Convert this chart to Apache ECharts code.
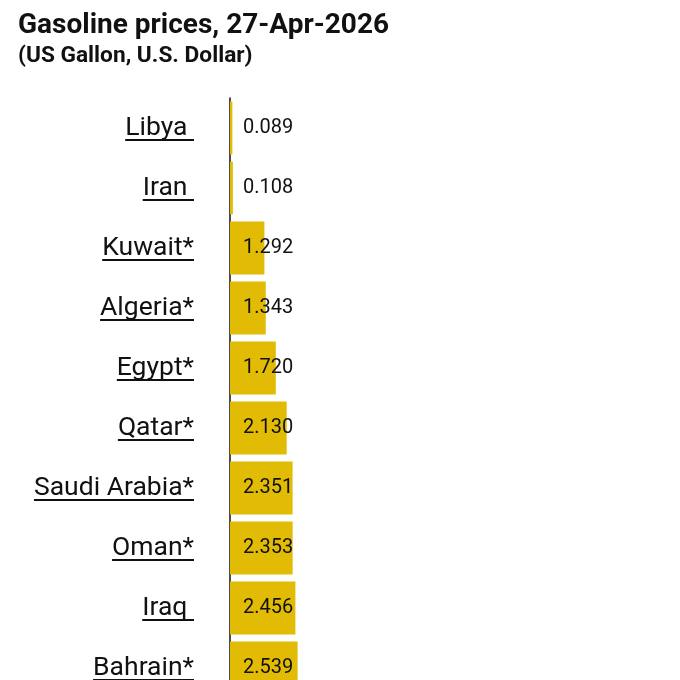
<!DOCTYPE html>
<html>
<head>
<meta charset="utf-8">
<script src="https://cdn.jsdelivr.net/npm/echarts@6/dist/echarts.min.js"></script>
<style>html,body{margin:0;padding:0;background:#fff}#c{width:680px;height:680px}</style>
</head>
<body>
<div id="c"></div>
<script>
const titleText = 'Gasoline prices, 27-Apr-2026';
const subtitleText = '(US Gallon, U.S. Dollar)';
const categories = ['Libya ', 'Iran ', 'Kuwait*', 'Algeria*', 'Egypt*', 'Qatar*', 'Saudi Arabia*', 'Oman*', 'Iraq ', 'Bahrain*'];
const prices = [0.089, 0.108, 1.292, 1.343, 1.720, 2.130, 2.351, 2.353, 2.456, 2.539];

const FONT = 'Roboto';
const catFontSize = 26.5;
const labelMargin = 36;
const canvas = document.createElement('canvas');
const ctx = canvas.getContext('2d');
ctx.font = catFontSize + 'px ' + FONT;
const widths = categories.map(c => ctx.measureText(c).width);

const chart = echarts.init(document.getElementById('c'), null, {renderer: 'canvas'});
chart.setOption({
  animation: false,
  backgroundColor: '#fff',
  title: {
    text: titleText,
    subtext: subtitleText,
    left: 18,
    top: 12,
    padding: 0,
    itemGap: 5,
    textStyle: {fontFamily: FONT, fontSize: 28, fontWeight: 'bold', color: '#111'},
    subtextStyle: {fontFamily: FONT, fontSize: 22.7, fontWeight: 'bold', color: '#111'}
  },
  grid: {left: 230, right: 24, top: 98, height: 600, containLabel: false, outerBoundsMode: 'none'},
  xAxis: {type: 'value', min: 0, max: 16, show: false},
  yAxis: {
    type: 'category',
    data: categories,
    inverse: true,
    axisLine: {show: true, lineStyle: {color: '#111', width: 1.5}},
    axisTick: {show: false},
    axisLabel: {fontFamily: FONT, fontSize: catFontSize, color: '#111', margin: labelMargin}
  },
  series: [
    {
      type: 'bar',
      data: prices,
      barWidth: '88%',
      itemStyle: {color: '#E2BB05'},
      label: {
        show: true,
        position: 'insideLeft',
        distance: 13,
        fontFamily: FONT,
        fontSize: 20,
        color: '#111',
        formatter: p => p.value.toFixed(3)
      }
    },
    {
      type: 'custom',
      silent: true,
      clip: false,
      data: categories.map((c, i) => [0, i]),
      renderItem: function (params, api) {
        const i = api.value(1);
        const pt = api.coord([0, i]);
        const x2 = pt[0] - labelMargin;
        const y = pt[1] + 12;
        return {
          type: 'line',
          shape: {x1: x2 - widths[i], y1: y, x2: x2, y2: y},
          style: {stroke: '#111', lineWidth: 1.8}
        };
      }
    }
  ]
});
</script>
</body>
</html>
